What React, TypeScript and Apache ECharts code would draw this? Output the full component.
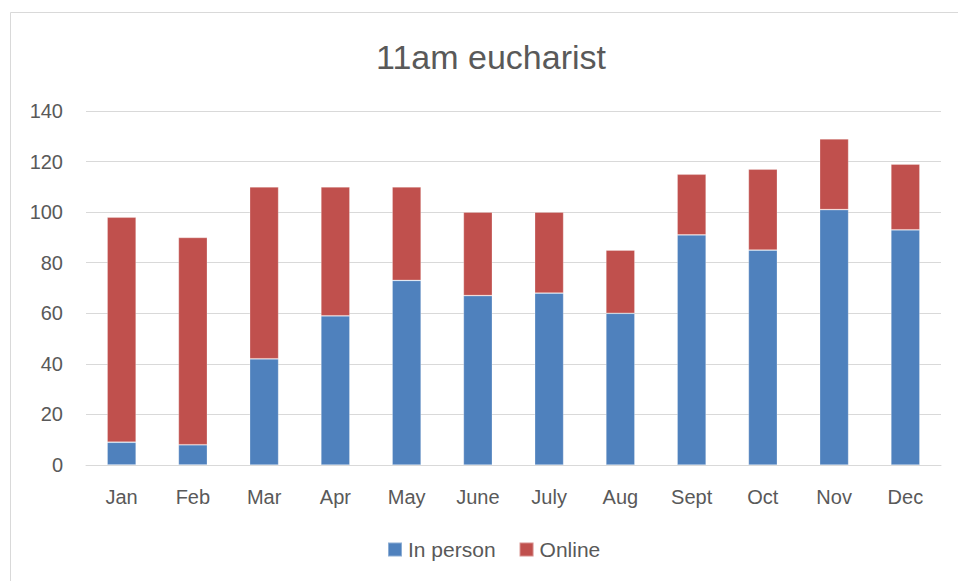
import React, { useEffect, useRef } from "react";
import * as echarts from "echarts";

const months = ["Jan", "Feb", "Mar", "Apr", "May", "June", "July", "Aug", "Sept", "Oct", "Nov", "Dec"];
const inPerson = [9, 8, 42, 59, 73, 67, 68, 60, 91, 85, 101, 93];
const online = [89, 82, 68, 51, 37, 33, 32, 25, 24, 32, 28, 26];
const yTicks = { min: 0, max: 140, interval: 20 };
const titleText = "11am eucharist";

const FONT = "'Liberation Sans', Arial, sans-serif";
const TEXT = "#595959";

export default function App() {
  const ref = useRef<HTMLDivElement>(null);
  useEffect(() => {
    if (!ref.current) return;
    const chart = echarts.init(ref.current, null, { renderer: "svg" });
    chart.setOption({
      animation: false,
      backgroundColor: "#ffffff",
      textStyle: { fontFamily: FONT },
      title: {
        text: titleText,
        left: 486,
        top: 35,
        textAlign: "center",
        textStyle: { fontFamily: FONT, fontSize: 34, fontWeight: "normal", color: TEXT },
      },
      graphic: [
        {
          type: "rect",
          shape: { x: 10.5, y: 12.5, width: 1000, height: 700 },
          style: { fill: "none", stroke: "#D9D9D9", lineWidth: 1 },
          silent: true,
          z: -1,
        },
      ],
      legend: {
        left: 387,
        top: 539,
        padding: 0,
        itemWidth: 14,
        itemHeight: 14,
        itemGap: 23,
        icon: "rect",
        textStyle: { fontFamily: FONT, fontSize: 21, color: TEXT, padding: [0, 0, 0, 1] },
        data: ["In person", "Online"],
      },
      grid: { left: 86, right: 17, top: 111, bottom: 116, containLabel: false },
      xAxis: {
        type: "category",
        data: months,
        axisLine: { show: true, lineStyle: { color: "#D9D9D9", width: 1 } },
        axisTick: { show: false },
        axisLabel: { fontFamily: FONT, fontSize: 20, color: TEXT, margin: 22 },
      },
      yAxis: {
        type: "value",
        min: yTicks.min,
        max: yTicks.max,
        interval: yTicks.interval,
        axisLine: { show: false },
        axisTick: { show: false },
        splitLine: { lineStyle: { color: "#D9D9D9", width: 1 } },
        axisLabel: { fontFamily: FONT, fontSize: 20, color: TEXT, margin: 23 },
      },
      series: [
        {
          name: "In person",
          type: "bar",
          stack: "total",
          barWidth: 29,
          data: inPerson,
          itemStyle: { color: "#4F81BD", borderColor: "rgba(255,255,255,0.35)", borderWidth: 0.75 },
        },
        {
          name: "Online",
          type: "bar",
          stack: "total",
          barWidth: 29,
          data: online,
          itemStyle: { color: "#C0504D", borderColor: "rgba(255,255,255,0.35)", borderWidth: 0.75 },
        },
      ],
    });
    return () => chart.dispose();
  }, []);
  return (
    <div
      ref={ref}
      style={{ position: "fixed", left: 0, top: 0, width: 958, height: 581, background: "#fff" }}
    />
  );
}
